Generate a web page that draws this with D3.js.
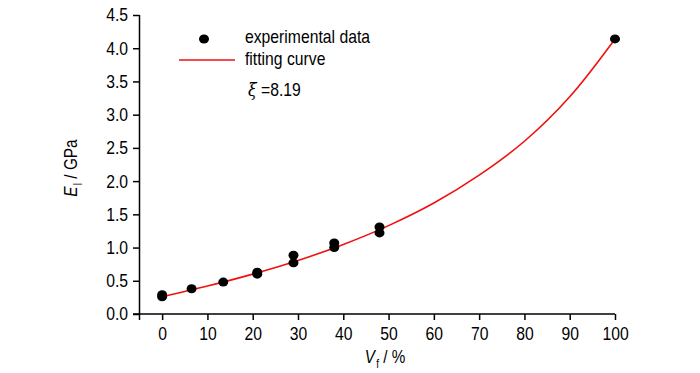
<!DOCTYPE html>
<html>
<head>
<meta charset="utf-8">
<script src="https://cdn.jsdelivr.net/npm/d3@7"></script>
<style>
  body { margin: 0; background: #fff; }
  text { font-family: "Liberation Sans", Arial, sans-serif; fill: #000; }
</style>
</head>
<body>
<div id="chart"></div>
<script>
// experimental points (Vf in %, El in GPa)
const vf = [0, 0, 6.5, 13.5, 21, 21, 29, 29, 38, 38, 48, 48, 100];
const el = [0.26, 0.29, 0.38, 0.48, 0.60, 0.63, 0.77, 0.885, 1.00, 1.07, 1.22, 1.31, 4.14];

// fitted curve
const curveX = [0, 10, 20, 30, 40, 50, 60, 70, 80, 90, 100];
const curveY = [0.26, 0.42, 0.60, 0.805, 1.046, 1.33, 1.67, 2.09, 2.60, 3.27, 4.14];

const xTicks = [0, 10, 20, 30, 40, 50, 60, 70, 80, 90, 100];
const yTicks = [0.0, 0.5, 1.0, 1.5, 2.0, 2.5, 3.0, 3.5, 4.0, 4.5];

const legendLabels = ["experimental data", "fitting curve"];
const xiLabel = "=8.19";

const width = 700, height = 373;
const margin = {top: 15, right: 85, bottom: 59, left: 139.5};
const fs = "18.5px";

const svg = d3.select("#chart").append("svg")
  .attr("width", width)
  .attr("height", height);

const x = d3.scaleLinear().domain([-5, 100]).range([margin.left, width - margin.right]);
const y = d3.scaleLinear().domain([0, 4.5]).range([height - margin.bottom, margin.top]);

// x axis
const xAxisG = svg.append("g").attr("transform", `translate(0,${y(0)})`);
xAxisG.call(d3.axisBottom(x).tickValues(d3.range(-5, 101, 5)).tickSize(3).tickFormat(""))
  .call(g => g.select(".domain").remove());
xAxisG.call(d3.axisBottom(x).tickValues(xTicks).tickSize(6).tickPadding(7).tickFormat(d3.format("d")))
  .call(g => g.select(".domain").remove());
xAxisG.append("line").attr("x1", margin.left - 6.5).attr("x2", x(100))
  .attr("stroke", "#000").attr("stroke-width", 1.5);
xAxisG.selectAll("line").attr("stroke", "#000").attr("stroke-width", 1.5);
xAxisG.selectAll("text").style("font-size", fs);

// y axis
const yAxisG = svg.append("g").attr("transform", `translate(${margin.left},0)`);
yAxisG.call(d3.axisLeft(y).tickValues(d3.range(0, 4.51, 0.25)).tickSize(3).tickFormat(""))
  .call(g => g.select(".domain").remove());
yAxisG.call(d3.axisLeft(y).tickValues(yTicks).tickSize(6.5).tickPadding(5).tickFormat(d3.format(".1f")))
  .call(g => g.select(".domain").remove());
yAxisG.append("line").attr("y1", y(4.5)).attr("y2", y(0) + 6)
  .attr("stroke", "#000").attr("stroke-width", 1.5);
yAxisG.selectAll("line").attr("stroke", "#000").attr("stroke-width", 1.5);
yAxisG.selectAll("text").style("font-size", fs);

// fitting curve
const line = d3.line()
  .x((d, i) => x(curveX[i]))
  .y(d => y(d))
  .curve(d3.curveCatmullRom);
svg.append("path")
  .datum(curveY)
  .attr("d", line)
  .attr("fill", "none")
  .attr("stroke", "#f01010")
  .attr("stroke-width", 1.6);

// points
svg.selectAll(".pt")
  .data(el)
  .enter().append("ellipse")
  .attr("class", "pt")
  .attr("cx", (d, i) => x(vf[i]))
  .attr("cy", d => y(d))
  .attr("rx", 5)
  .attr("ry", 4.5)
  .attr("fill", "#000");

// legend
const lg = svg.append("g");
lg.append("ellipse").attr("cx", 204).attr("cy", 39).attr("rx", 5).attr("ry", 4.5).attr("fill", "#000");
lg.append("line").attr("x1", 179).attr("x2", 235).attr("y1", 60).attr("y2", 60)
  .attr("stroke", "#f01010").attr("stroke-width", 1.6);
lg.append("text").attr("x", 245).attr("y", 43).style("font-size", fs).text(legendLabels[0]);
lg.append("text").attr("x", 245).attr("y", 65).style("font-size", fs).text(legendLabels[1]);
const xi = lg.append("text").attr("x", 248).attr("y", 96).style("font-size", fs);
xi.append("tspan").style("font-family", "'DejaVu Serif', serif").style("font-style", "italic").text("ξ");
xi.append("tspan").text(" " + xiLabel);

// axis titles
const xt = svg.append("text").attr("x", 385).attr("y", 363).attr("text-anchor", "middle").style("font-size", fs);
xt.append("tspan").style("font-style", "italic").text("V");
xt.append("tspan").attr("dx", 1.5).attr("dy", 5).style("font-size", "12px").text("f");
xt.append("tspan").attr("dy", -5).text(" / %");

const yt = svg.append("text").attr("transform", "translate(77,168) rotate(-90)")
  .attr("text-anchor", "middle").style("font-size", fs);
yt.append("tspan").style("font-style", "italic").text("E");
yt.append("tspan").attr("dx", 1.5).attr("dy", 5).style("font-size", "12px").text("l");
yt.append("tspan").attr("dy", -5).text(" / GPa");

// the original uses a condensed face: squeeze each label horizontally
svg.selectAll("text").each(function() {
  const L = this.getComputedTextLength();
  if (L > 0) d3.select(this).attr("textLength", L * 0.85).attr("lengthAdjust", "spacingAndGlyphs");
});
</script>
</body>
</html>
